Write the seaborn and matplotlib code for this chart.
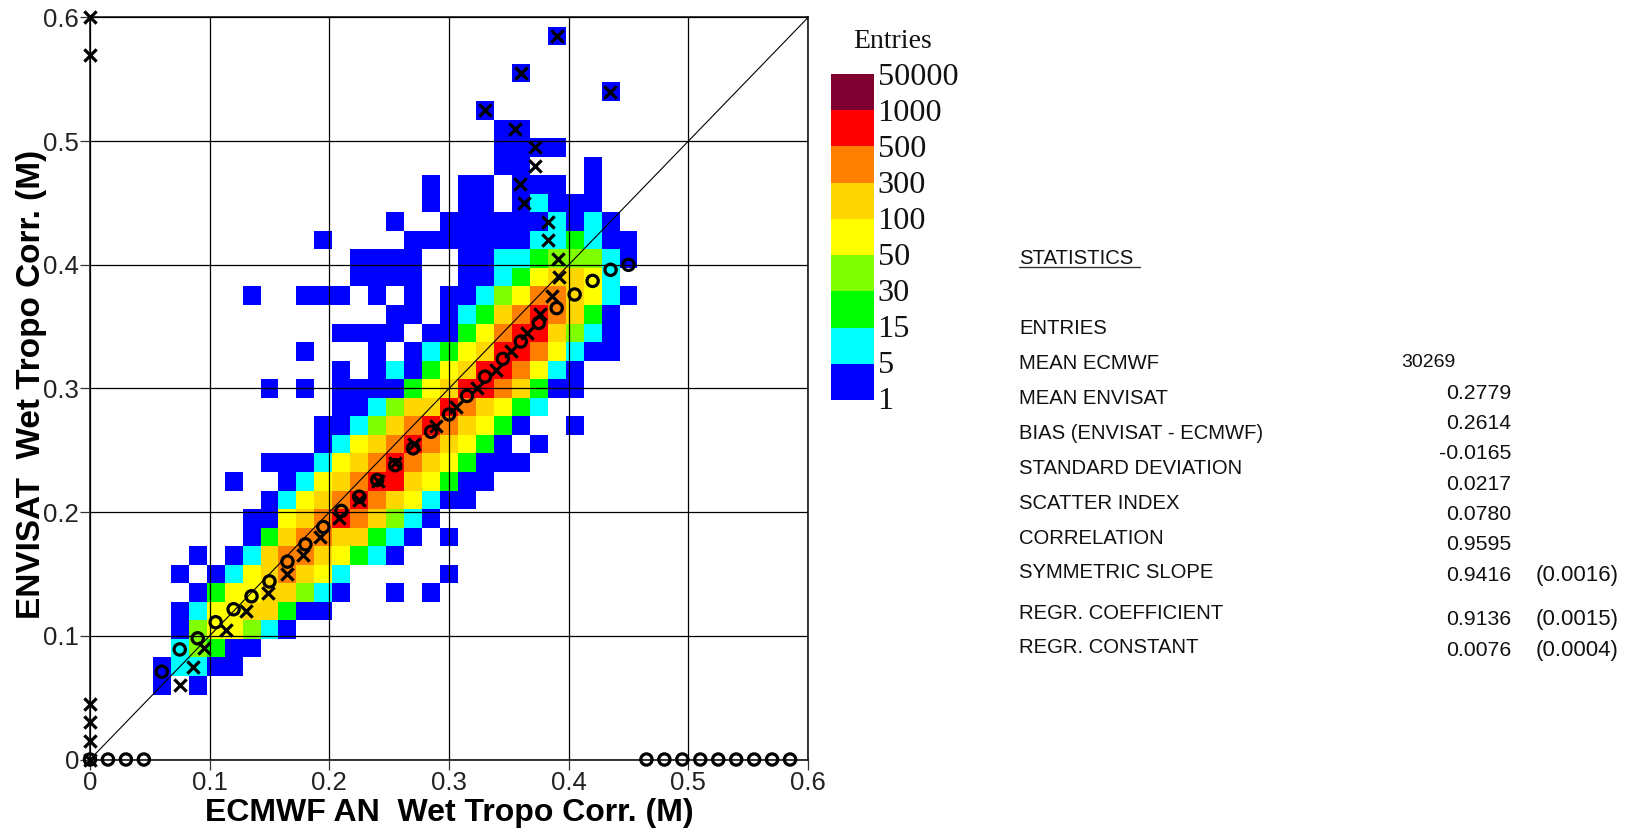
import matplotlib
matplotlib.use("Agg")
import matplotlib.pyplot as plt
import numpy as np
import seaborn as sns
from matplotlib.colors import ListedColormap
from matplotlib.lines import Line2D

# Binned entries: row number -> (first column, colour class per column)
# Bins are 0.015 wide and centred on multiples of 0.015. Class 0 means an empty bin.
bin_width = 0.015
cell_rows = {
    39: (26, "1"),
    37: (24, "1"),
    36: (29, "1"),
    35: (22, "1"),
    34: (23, "11"),
    33: (23, "1111"),
    32: (23, "110001"),
    31: (19, "1011011101"),
    30: (19, "1011012111"),
    29: (17, "1001111112121"),
    28: (13, "100001111111223211"),
    27: (15, "1111001122344421"),
    26: (15, "111100112356652"),
    25: (9, "1001110101011245776521"),
    24: (17, "1101236787631"),
    23: (14, "1111011357886421"),
    22: (12, "100010123568875211"),
    21: (14, "10121356887521"),
    20: (10, "101011113568876311"),
    19: (14, "112466876532"),
    18: (13, "112467876531001"),
    17: (13, "1256787653101"),
    16: (10, "111256787653111"),
    15: (8, "100125678865311"),
    14: (10, "125678765211"),
    13: (9, "11567876421"),
    12: (9, "136776632101"),
    11: (6, "101267765321"),
    10: (5, "1012567652000001"),
    9: (6, "13556642100101"),
    8: (5, "125566311"),
    7: (5, "1455421"),
    6: (5, "24311"),
    5: (4, "12211"),
    4: (4, "101"),
}

level_colors = ["#0000ff", "#00ffff", "#00ff00", "#80ff00", "#ffff00",
                "#ffd700", "#ff8000", "#ff0000", "#7f0030"]
level_labels = ["50000", "1000", "500", "300", "100", "50", "30", "15", "5", "1"]

# mean of ENVISAT per ECMWF bin
circle_x = [0, 0.015, 0.03, 0.045, 0.06, 0.075, 0.09, 0.105, 0.12, 0.135, 0.15, 0.165, 0.18,
            0.195, 0.21, 0.225, 0.24, 0.255, 0.27, 0.285, 0.30, 0.315, 0.33, 0.345, 0.36,
            0.375, 0.39, 0.405, 0.42, 0.435, 0.45, 0.465, 0.48, 0.495, 0.51, 0.525, 0.54,
            0.555, 0.57, 0.585]
circle_y = [0, 0, 0, 0, 0.071, 0.089, 0.098, 0.111, 0.1215, 0.132, 0.144, 0.160, 0.174,
            0.188, 0.201, 0.2125, 0.226, 0.238, 0.2516, 0.265, 0.279, 0.294, 0.3096, 0.324,
            0.338, 0.353, 0.365, 0.376, 0.387, 0.396, 0.400, 0, 0, 0, 0, 0, 0, 0, 0, 0]

# mean of ECMWF per ENVISAT bin
cross_x = [0, 0, 0, 0, 0.075, 0.086, 0.095, 0.114, 0.130, 0.149, 0.165, 0.178, 0.192, 0.208,
           0.225, 0.241, 0.2545, 0.271, 0.2895, 0.306, 0.323, 0.339, 0.352, 0.365, 0.376,
           0.386, 0.392, 0.391, 0.383, 0.383, 0.363, 0.359, 0.372, 0.372, 0.355, 0.33,
           0.4345, 0.36, 0.39, 0, 0]
cross_y = [0, 0.015, 0.03, 0.045, 0.06, 0.075, 0.09, 0.105, 0.12, 0.135, 0.15, 0.165, 0.18,
           0.195, 0.21, 0.225, 0.24, 0.255, 0.27, 0.285, 0.30, 0.315, 0.33, 0.345, 0.36,
           0.375, 0.39, 0.405, 0.42, 0.435, 0.45, 0.465, 0.48, 0.495, 0.51, 0.525, 0.54,
           0.555, 0.585, 0.57, 0.60]

diagonal = [0, 0.6]
tick_values = [0, 0.1, 0.2, 0.3, 0.4, 0.5, 0.6]
tick_labels = ["0", "0.1", "0.2", "0.3", "0.4", "0.5", "0.6"]

stat_names = ["ENTRIES", "MEAN ECMWF", "MEAN ENVISAT", "BIAS (ENVISAT - ECMWF)",
              "STANDARD DEVIATION", "SCATTER INDEX", "CORRELATION", "SYMMETRIC SLOPE",
              "REGR. COEFFICIENT", "REGR. CONSTANT"]
stat_name_y = [328.5, 363.5, 398, 433, 468, 503.5, 538, 573, 613, 647.5]
stat_values = ["0.2779", "0.2614", "-0.0165", "0.0217", "0.0780", "0.9595", "0.9416",
               "0.9136", "0.0076"]
stat_value_y = [393.5, 423.5, 453.5, 484, 514, 544.5, 575.5, 619, 650.5]
stat_errors = ["(0.0016)", "(0.0015)", "(0.0004)"]
stat_error_y = [575.5, 619, 650.5]

W, H = 1630, 830

sns.set_style("ticks")
plt.rcParams["font.family"] = ["Liberation Sans"]


def fx(px):
    return px / W


def fy(px):
    return 1 - px / H


cell_x, cell_y, cell_level = [], [], []
for row, (start, levels) in cell_rows.items():
    for n, level in enumerate(levels):
        cell_x.append((start + n) * bin_width)
        cell_y.append(row * bin_width)
        cell_level.append(int(level))

level_cmap = ListedColormap(level_colors)

fig = plt.figure(figsize=(W / 100, H / 100), dpi=100)
ax = fig.add_axes([fx(90), fy(759.5), (808 - 90) / W, (759.5 - 17.5) / H])

sns.histplot(x=cell_x, y=cell_y, weights=cell_level, bins=41, binrange=(-0.0075, 0.6075),
             cmap=level_cmap, vmin=0.5, vmax=9.5, cbar=False, ax=ax)

ax.plot(diagonal, diagonal, color="black", lw=0.8, zorder=3)
sns.scatterplot(x=cross_x, y=cross_y, marker="x", s=78, color="black", linewidth=2.3,
                clip_on=False, zorder=5, ax=ax)
sns.scatterplot(x=circle_x, y=circle_y, marker="o", s=66, facecolor="none", edgecolor="black",
                linewidth=2.3, clip_on=False, zorder=5, ax=ax)

ax.set_xlim(0, 0.6)
ax.set_ylim(0, 0.6)
ax.set_xticks(tick_values)
ax.set_xticklabels(tick_labels)
ax.set_yticks(tick_values)
ax.set_yticklabels(tick_labels)
ax.set_axisbelow(False)
ax.grid(True, color="black", lw=0.9)
ax.tick_params(length=7, width=0.9, color="#333333", labelsize=18.5, pad=1, labelcolor="#222222")
for spine in ax.spines.values():
    spine.set_visible(True)
    spine.set_color("black")
    spine.set_linewidth(1.1)

ax.set_xlabel("ECMWF AN  Wet Tropo Corr. (M)", fontsize=23, fontweight="bold", va="center",
              color="black")
ax.xaxis.set_label_coords(0.5, -0.072)
ax.set_ylabel("ENVISAT  Wet Tropo Corr. (M)", fontsize=24, fontweight="bold", va="center",
              color="black")
ax.yaxis.set_label_coords(-0.0808, 0.505)

# colour key
cax = fig.add_axes([fx(831), fy(400), 43 / W, 326 / H])
key_levels = np.arange(len(level_colors), 0, -1).reshape(-1, 1)
sns.heatmap(key_levels, cmap=level_cmap, vmin=0.5, vmax=9.5, cbar=False,
            xticklabels=False, yticklabels=False, ax=cax)
fig.text(fx(893), fy(42), "Entries", family="Liberation Serif", fontsize=20,
         ha="center", va="center", color="#111111")
for n, label in enumerate(level_labels):
    fig.text(fx(877.5), fy(77.5 + n * 36.05), label, family="Liberation Serif", fontsize=23.2,
             ha="left", va="center", color="#111111")

# statistics block
fig.text(fx(1019), fy(259), "STATISTICS", fontsize=14.6, va="center", color="#111111")
fig.add_artist(Line2D([fx(1019), fx(1140)], [fy(267.5), fy(267.5)], color="#333333", lw=1))
for name, y in zip(stat_names, stat_name_y):
    fig.text(fx(1019), fy(y), name, fontsize=14.6, va="center", color="#111111")
fig.text(fx(1455), fy(362.5), "30269", fontsize=14, ha="right", va="center", color="#111111")
for value, y in zip(stat_values, stat_value_y):
    fig.text(fx(1511), fy(y), value, fontsize=15.3, ha="right", va="center", color="#111111")
for value, y in zip(stat_errors, stat_error_y):
    fig.text(fx(1577), fy(y), value, fontsize=16, ha="center", va="center", color="#111111")

fig.savefig("out.png", dpi=100, facecolor="white")
